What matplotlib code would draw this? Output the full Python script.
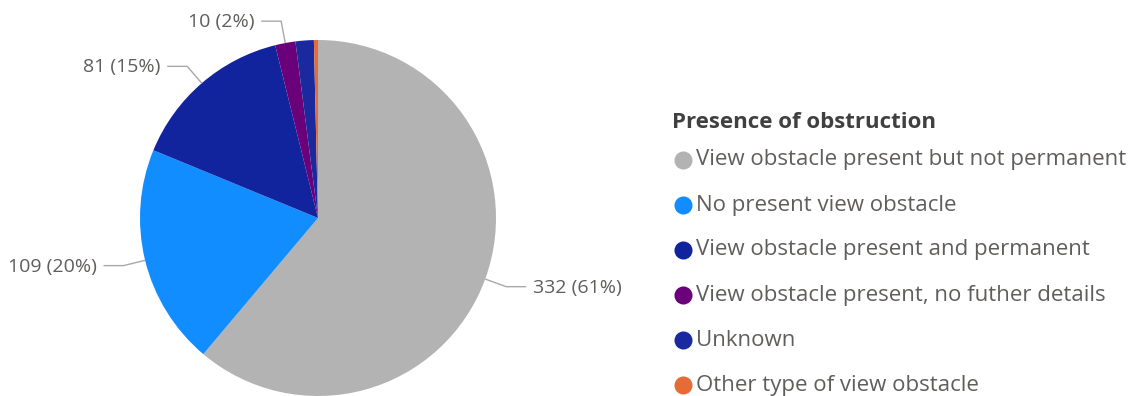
import numpy as np
import matplotlib.pyplot as plt

plt.rcParams['font.family'] = ['Open Sans', 'DejaVu Sans']

# Survey counts for each obstruction category
categories = ['View obstacle present but not permanent',
              'No present view obstacle',
              'View obstacle present and permanent',
              'View obstacle present, no futher details',
              'Unknown',
              'Other type of view obstacle']
counts = [332, 109, 81, 10, 9, 2]
colors = ['#B3B3B3', '#118DFF', '#12239E', '#6B007B', '#1A2A9E', '#E66C37']
labelled = [True, True, True, True, False, False]

W, H = 1133, 396
fig = plt.figure(figsize=(W / 100, H / 100), dpi=100)
ax = fig.add_axes([0, 0, 1, 1])

cx, cy, R = 318, H - 218, 178
wedges, _ = ax.pie(counts, colors=colors, startangle=90, counterclock=False,
                   center=(cx, cy), radius=R, frame=True,
                   wedgeprops=dict(linewidth=0))
ax.set_xlim(0, W)
ax.set_ylim(0, H)
ax.set_aspect('equal')
ax.axis('off')

total = sum(counts)
text_col = '#605E5C'
line_col = '#A8A8A8'

# Data labels with elbow leader lines
for w, v, show in zip(wedges, counts, labelled):
    if not show:
        continue
    ang = np.deg2rad((w.theta1 + w.theta2) / 2)
    x0, y0 = cx + R * np.cos(ang), cy + R * np.sin(ang)
    x1, y1 = cx + 1.125 * R * np.cos(ang), cy + 1.125 * R * np.sin(ang)
    side = 1 if np.cos(ang) >= 0 else -1
    x2 = x1 + side * 20
    ax.plot([x0, x1, x2], [y0, y1, y1], color=line_col, lw=1, solid_capstyle='butt')
    ax.text(x2 + side * 7, y1 - 1, f'{v} ({v / total:.0%})',
            ha='left' if side > 0 else 'right', va='center',
            fontsize=14, color=text_col)

# Legend
ax.text(672, H - 122, 'Presence of obstruction', fontsize=16, fontweight='bold',
        color='#404040', ha='left', va='center')
for i, (cat, col) in enumerate(zip(categories, colors)):
    y = H - (160 + 45 * i)
    ax.plot(683, y, 'o', ms=13, color=col, mec='none')
    ax.text(696, y, cat, fontsize=16, color=text_col, ha='left', va='center')

fig.savefig('out.png', dpi=100)
